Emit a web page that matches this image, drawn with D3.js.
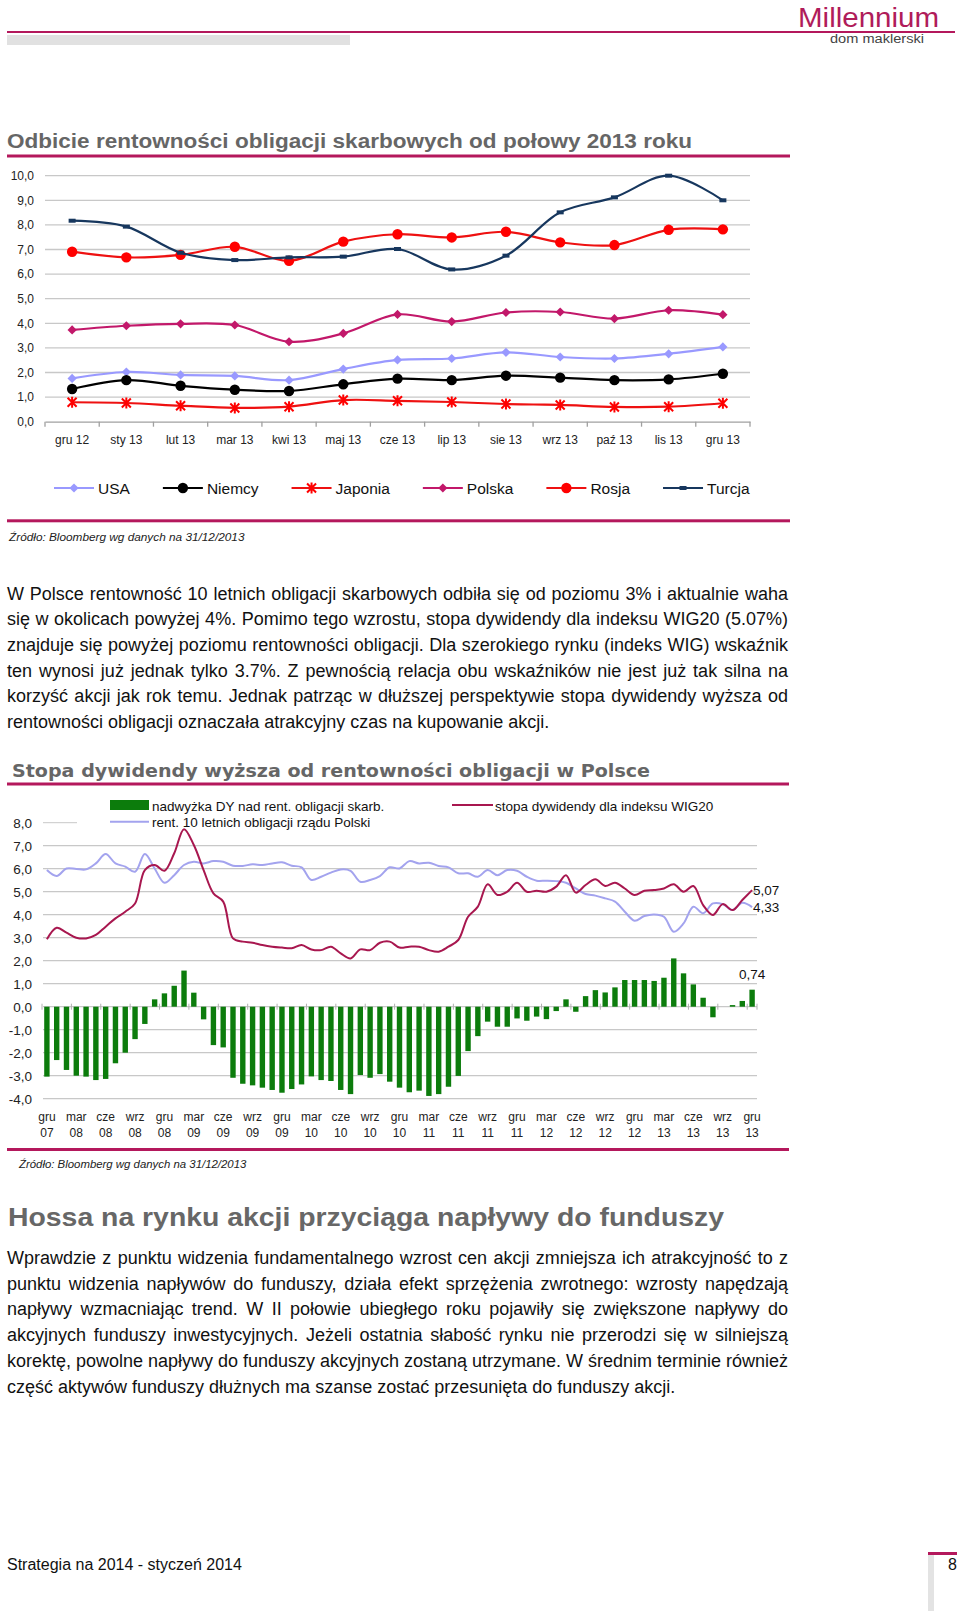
<!DOCTYPE html>
<html><head><meta charset="utf-8">
<script src="https://cdn.jsdelivr.net/npm/d3@7"></script>
<style>
html,body{margin:0;padding:0;background:#fff;}
svg{display:block;font-family:"Liberation Sans",Arial,sans-serif;}
</style></head><body>
<svg id="page" width="960" height="1611"></svg>
<script>
// ---------- DATA: chart 1 (government bond yields) ----------
const months1 = ["gru 12","sty 13","lut 13","mar 13","kwi 13","maj 13","cze 13","lip 13","sie 13","wrz 13","paź 13","lis 13","gru 13"];
const usa     = [1.76,2.02,1.90,1.86,1.69,2.14,2.51,2.57,2.82,2.63,2.57,2.76,3.04];
const niemcy  = [1.33,1.69,1.46,1.30,1.25,1.52,1.75,1.69,1.87,1.79,1.69,1.72,1.95];
const japonia = [0.79,0.76,0.65,0.56,0.61,0.88,0.85,0.80,0.72,0.68,0.60,0.61,0.75];
const polska  = [3.73,3.90,3.98,3.93,3.25,3.59,4.36,4.07,4.44,4.46,4.19,4.53,4.35];
const rosja   = [6.91,6.68,6.78,7.11,6.54,7.32,7.62,7.49,7.72,7.29,7.18,7.80,7.82];
const turcja  = [8.17,7.93,6.87,6.57,6.68,6.71,7.02,6.19,6.75,8.51,9.12,10.0,9.00];
const seriesNames1 = ["USA","Niemcy","Japonia","Polska","Rosja","Turcja"];
const yTicks1 = [0,1,2,3,4,5,6,7,8,9,10];

// ---------- DATA: chart 2 (dividend yield vs bond yield, monthly gru 07 .. gru 13) ----------
const spread = [-3.04,-2.32,-2.75,-3.00,-3.04,-3.19,-3.14,-2.46,-2.00,-1.41,-0.75,0.32,0.58,0.91,1.57,0.61,
 -0.55,-1.67,-1.77,-3.09,-3.35,-3.42,-3.52,-3.62,-3.74,-3.58,-3.38,-3.03,-3.19,-3.23,-3.62,-3.80,-2.97,-3.09,
 -2.93,-3.26,-3.52,-3.72,-3.65,-3.88,-3.80,-3.48,-3.01,-1.93,-1.28,-0.65,-0.87,-0.87,-0.51,-0.61,-0.43,-0.54,
 -0.19,0.32,-0.22,0.46,0.72,0.62,0.84,1.16,1.16,1.16,1.12,1.26,2.10,1.45,0.97,0.39,-0.46,0,0.07,0.25,0.74];
const bond10y = [5.94,5.68,6.01,5.99,5.97,6.23,6.64,6.23,6.09,5.87,6.64,6.01,5.39,5.72,6.16,6.30,6.23,6.33,
 6.30,6.13,6.12,6.19,6.16,6.23,6.28,6.13,6.06,5.51,5.65,5.83,5.97,5.91,5.43,5.51,5.68,6.06,6.01,6.33,6.23,
 6.26,6.12,6.06,5.80,5.80,5.65,5.94,5.72,5.94,5.91,5.65,5.48,5.48,5.46,5.39,5.14,4.90,4.83,4.71,4.57,4.13,
 3.74,3.94,4.01,3.91,3.26,3.62,4.35,4.06,4.49,4.46,4.20,4.52,4.33];
const wig20DY = [2.93,3.43,3.22,3.00,2.97,3.12,3.48,3.84,4.13,4.49,5.94,6.16,5.91,6.67,7.72,7.03,5.94,4.93,
 4.57,2.97,2.83,2.78,2.68,2.61,2.57,2.54,2.68,2.49,2.46,2.61,2.32,2.10,2.49,2.46,2.78,2.83,2.57,2.61,2.61,
 2.46,2.39,2.61,2.90,3.91,4.35,5.32,4.86,5.00,5.39,5.00,5.04,5.00,5.22,5.72,4.96,5.29,5.54,5.25,5.39,5.14,
 4.86,5.04,5.07,5.14,5.32,5.00,5.25,4.42,3.99,4.46,4.20,4.64,5.07];
const monthNames = ["gru","sty","lut","mar","kwi","maj","cze","lip","sie","wrz","paź","lis"];
const xTickLabels2 = ["gru 07","mar 08","cze 08","wrz 08","gru 08","mar 09","cze 09","wrz 09","gru 09","mar 10",
 "cze 10","wrz 10","gru 10","mar 11","cze 11","wrz 11","gru 11","mar 12","cze 12","wrz 12","gru 12","mar 13","cze 13","wrz 13","gru 13"];
const yTicks2 = [-4,-3,-2,-1,0,1,2,3,4,5,6,7,8];
const legend2 = ["nadwyżka DY nad rent. obligacji skarb.","rent. 10 letnich obligacji rządu Polski","stopa dywidendy dla indeksu WIG20"];

// ---------- TEXT ----------
const para1 = [
 "W Polsce rentowność 10 letnich obligacji skarbowych odbiła się od poziomu 3% i aktualnie waha",
 "się w okolicach powyżej 4%. Pomimo tego wzrostu, stopa dywidendy dla indeksu WIG20 (5.07%)",
 "znajduje się powyżej poziomu rentowności obligacji. Dla szerokiego rynku (indeks WIG) wskaźnik",
 "ten wynosi już jednak tylko 3.7%. Z pewnością relacja obu wskaźników nie jest już tak silna na",
 "korzyść akcji jak rok temu. Jednak patrząc w dłuższej perspektywie stopa dywidendy wyższa od",
 "rentowności obligacji oznaczała atrakcyjny czas na kupowanie akcji."];
const para2 = [
 "Wprawdzie z punktu widzenia fundamentalnego wzrost cen akcji zmniejsza ich atrakcyjność to z",
 "punktu widzenia napływów do funduszy, działa efekt sprzężenia zwrotnego: wzrosty napędzają",
 "napływy wzmacniając trend. W II połowie ubiegłego roku pojawiły się zwiększone napływy do",
 "akcyjnych funduszy inwestycyjnych. Jeżeli ostatnia słabość rynku nie przerodzi się w silniejszą",
 "korektę, powolne napływy do funduszy akcyjnych zostaną utrzymane. W średnim terminie również",
 "część aktywów funduszy dłużnych ma szanse zostać przesunięta do funduszy akcji."];

// ---------- STYLE ----------
const ACC = "#b4185c", GRID = "#c8c8c8", TITLE = "#666666", TXT = "#111111";
const colors1 = {USA:"#9999ff",Niemcy:"#000000",Japonia:"#ee1111",Polska:"#c2186a",Rosja:"#ee1111",Turcja:"#17375e"};
const markers1 = {USA:"diamond",Niemcy:"circle",Japonia:"star",Polska:"diamond",Rosja:"circle",Turcja:"square"};
const mcol1 = {USA:"#9999ff",Niemcy:"#000",Japonia:"#ff0000",Polska:"#c2186a",Rosja:"#ff0000",Turcja:"#17375e"};
const data1 = {USA:usa,Niemcy:niemcy,Japonia:japonia,Polska:polska,Rosja:rosja,Turcja:turcja};

const svg = d3.select("#page");

function marker(sel, type, color){
  if(type==="diamond") sel.append("path").attr("d","M0,-4.6L4.6,0L0,4.6L-4.6,0Z").attr("fill",color);
  else if(type==="circle") sel.append("circle").attr("r",5.2).attr("fill",color);
  else if(type==="star") sel.append("path").attr("d","M-4.5,-4.5L4.5,4.5M-4.5,4.5L4.5,-4.5M0,-5.5L0,5.5").attr("stroke",color).attr("stroke-width",2).attr("fill","none");
  else if(type==="square") sel.append("rect").attr("x",-3.5).attr("y",-2).attr("width",7).attr("height",4).attr("fill",color);
}
function textLine(str,x,y,size,opt={}){
  const t = svg.append("text").attr("x",x).attr("y",y).attr("font-size",size).attr("fill",opt.fill||TXT).text(str);
  if(opt.weight) t.attr("font-weight",opt.weight);
  if(opt.style) t.attr("font-style",opt.style);
  if(opt.family) t.style("font-family",opt.family);
  if(opt.anchor) t.attr("text-anchor",opt.anchor);
  if(opt.length) t.attr("textLength",opt.length).attr("lengthAdjust","spacingAndGlyphs");
  return t;
}
function paragraph(lines,x,y0,lh,width,size){
  lines.forEach((s,i)=>{
    const t = textLine(s,x,y0+i*lh,size);
    if(i<lines.length-1){
      const w = t.node().getComputedTextLength();
      const n = (s.match(/ /g)||[]).length;
      if(n>0) t.style("word-spacing",((width-w)/n)+"px");
    }
  });
}

// ---------- HEADER ----------
svg.append("rect").attr("x",7).attr("y",31).attr("width",948).attr("height",2).attr("fill",ACC);
svg.append("rect").attr("x",7).attr("y",35).attr("width",343).attr("height",10).attr("fill","#e1e1e1");
textLine("Millennium",798,27,27,{fill:"#b01c5a",family:"'Liberation Sans Narrow','Liberation Sans',sans-serif",length:141});
textLine("dom maklerski",830,43,12,{fill:"#444",family:"'Liberation Sans Narrow','Liberation Sans',sans-serif",length:94});

// ---------- CHART 1 ----------
textLine("Odbicie rentowności obligacji skarbowych od połowy 2013 roku",7,148,19.5,{fill:TITLE,weight:"bold",length:685});
svg.append("rect").attr("x",7).attr("y",154.5).attr("width",783).attr("height",3).attr("fill",ACC);

const x1 = d3.scaleBand().domain(months1).range([45,750]);
const y1 = d3.scaleLinear().domain([0,10]).range([421.7,175.7]);
const g1 = svg.append("g");
g1.selectAll("line.grid").data(yTicks1.filter(d=>d>0)).join("line")
  .attr("x1",45).attr("x2",750).attr("y1",d=>y1(d)).attr("y2",d=>y1(d))
  .attr("stroke",GRID).attr("stroke-width",1.3);
// y axis labels
const ya1 = g1.append("g").attr("transform","translate(45,0)")
  .call(d3.axisLeft(y1).tickValues(yTicks1).tickSize(0).tickPadding(11).tickFormat(d=>d.toFixed(1).replace(".",",")));
ya1.select(".domain").remove();
ya1.selectAll("text").attr("font-size",12).attr("fill","#222").style("font-family","'Liberation Sans',Arial,sans-serif");
// x axis
const xa1 = g1.append("g").attr("transform",`translate(0,${y1(0)})`)
  .call(d3.axisBottom(x1).tickSize(0).tickPadding(13.3));
xa1.select(".domain").attr("stroke","#a0a0a0").attr("stroke-width",1.3);
xa1.selectAll("text").attr("font-size",12).attr("fill","#222").style("font-family","'Liberation Sans',Arial,sans-serif");
g1.selectAll("line.tk").data(d3.range(months1.length+1)).join("line")
  .attr("x1",i=>45+i*x1.step()).attr("x2",i=>45+i*x1.step())
  .attr("y1",y1(0)).attr("y2",y1(0)+5).attr("stroke","#a0a0a0").attr("stroke-width",1.3);
// lines
const lineGen1 = d3.line().x((d,i)=>x1(months1[i])+x1.bandwidth()/2).y(d=>y1(d)).curve(d3.curveCatmullRom);
seriesNames1.forEach(name=>{
  g1.append("path").datum(data1[name]).attr("d",lineGen1).attr("fill","none")
    .attr("stroke",colors1[name]).attr("stroke-width",2.2);
  data1[name].forEach((v,i)=>{
    const m = g1.append("g").attr("transform",`translate(${x1(months1[i])+x1.bandwidth()/2},${y1(v)})`);
    marker(m,markers1[name],mcol1[name]);
  });
});
// legend 1
let lx = 54;
seriesNames1.forEach(name=>{
  const lg = svg.append("g").attr("transform",`translate(${lx},488)`);
  lg.append("line").attr("x1",0).attr("x2",40).attr("stroke",colors1[name]).attr("stroke-width",2.2);
  marker(lg.append("g").attr("transform","translate(20,0)"),markers1[name],mcol1[name]);
  const t = lg.append("text").attr("x",44).attr("y",5.5).attr("font-size",15.5).attr("fill",TXT).text(name);
  lx += 44 + t.node().getComputedTextLength() + 33;
});
svg.append("rect").attr("x",7).attr("y",519.3).attr("width",783).attr("height",3).attr("fill",ACC);
textLine("Źródło: Bloomberg wg danych na 31/12/2013",9,541,11.8,{style:"italic",fill:"#222"});

// ---------- PARAGRAPH 1 ----------
paragraph(para1,7,599.5,25.7,781,18);

// ---------- CHART 2 ----------
textLine("Stopa dywidendy wyższa od rentowności obligacji w Polsce",12,777,17.5,{fill:TITLE,weight:"bold",family:"'DejaVu Sans',sans-serif",length:638});
svg.append("rect").attr("x",7).attr("y",782.5).attr("width",782).attr("height",3).attr("fill",ACC);

const x2 = d3.scaleBand().domain(d3.range(spread.length)).range([42,757]).paddingInner(0.45).paddingOuter(0.225);
const y2 = d3.scaleLinear().domain([-4,8]).range([1098.7,822.7]);
const cx2 = i => x2(i)+x2.bandwidth()/2;
const g2 = svg.append("g");
g2.selectAll("line.grid").data(yTicks2.filter(d=>d<8)).join("line")
  .attr("x1",43).attr("x2",757).attr("y1",d=>y2(d)).attr("y2",d=>y2(d))
  .attr("stroke",GRID).attr("stroke-width",1.3);
g2.append("line").attr("x1",43).attr("x2",77).attr("y1",y2(8)).attr("y2",y2(8)).attr("stroke","#c8c8c8").attr("stroke-width",1);
const ya2 = g2.append("g").attr("transform","translate(42,0)")
  .call(d3.axisLeft(y2).tickValues(yTicks2).tickSize(0).tickPadding(10).tickFormat(d=>d.toFixed(1).replace(".",",")));
ya2.select(".domain").remove();
ya2.selectAll("text").attr("font-size",13.5).attr("fill","#222").style("font-family","'Liberation Sans',Arial,sans-serif");
// bars
g2.selectAll("rect.bar").data(spread).join("rect")
  .attr("x",(d,i)=>x2(i)).attr("width",x2.bandwidth())
  .attr("y",d=>y2(Math.max(0,d))).attr("height",d=>Math.abs(y2(d)-y2(0)))
  .attr("fill","#0c7c0c");
// zero-axis ticks
const tickIdx = d3.range(0,spread.length,3);
g2.selectAll("line.tk").data(tickIdx.concat([spread.length])).join("line")
  .attr("x1",i=>42+x2.step()*(i+0.225-0.225)).attr("x2",i=>42+x2.step()*i)
  .attr("y1",y2(0)-3).attr("y2",y2(0)+3).attr("stroke","#b0b0b0").attr("stroke-width",1);
// x axis labels (two lines)
const xa2 = g2.append("g").attr("transform",`translate(0,${y2(-4)})`)
  .call(d3.axisBottom(x2).tickValues(tickIdx).tickSize(0).tickFormat((d,k)=>xTickLabels2[k]));
xa2.select(".domain").remove();
xa2.selectAll("text").each(function(d,k){
  const parts = xTickLabels2[k].split(" ");
  const t = d3.select(this).text(null).attr("y",0).attr("dy",null)
    .attr("font-size",12).attr("fill","#222").style("font-family","'Liberation Sans',Arial,sans-serif");
  t.append("tspan").attr("x",0).attr("y",22.3).text(parts[0]);
  t.append("tspan").attr("x",0).attr("y",38.3).text(parts[1]);
});
// lines
const lineGen2 = d3.line().x((d,i)=>cx2(i)).y(d=>y2(d)).curve(d3.curveCatmullRom);
g2.append("path").datum(bond10y).attr("d",lineGen2).attr("fill","none").attr("stroke","#a3a3ee").attr("stroke-width",2);
g2.append("path").datum(wig20DY).attr("d",lineGen2).attr("fill","none").attr("stroke","#a8174f").attr("stroke-width",2);
// end labels
const last = spread.length-1;
const fmt = v => v.toFixed(2).replace(".",",");
textLine(fmt(wig20DY[last]),cx2(last)+1,y2(wig20DY[last])+5,13.5,{fill:"#111"});
textLine(fmt(bond10y[last]),cx2(last)+1,y2(bond10y[last])+5,13.5,{fill:"#111"});
textLine(fmt(spread[last]),cx2(last),y2(spread[last])-10.5,13.5,{fill:"#111",anchor:"middle"});
// legend 2
svg.append("rect").attr("x",110).attr("y",800).attr("width",39).attr("height",10).attr("fill","#0c7c0c");
textLine(legend2[0],152,811,13.5,{fill:"#111"});
svg.append("line").attr("x1",110).attr("x2",149).attr("y1",821.7).attr("y2",821.7).attr("stroke","#a3a3ee").attr("stroke-width",2);
textLine(legend2[1],152,827.3,13.5,{fill:"#111"});
svg.append("line").attr("x1",452).attr("x2",493).attr("y1",805).attr("y2",805).attr("stroke","#a8174f").attr("stroke-width",2);
textLine(legend2[2],495,810.5,13.5,{fill:"#111"});

svg.append("rect").attr("x",7).attr("y",1148).attr("width",782).attr("height",3).attr("fill",ACC);
textLine("Źródło: Bloomberg wg danych na 31/12/2013",19,1168,11.4,{style:"italic",fill:"#222"});

// ---------- SECTION 3 ----------
textLine("Hossa na rynku akcji przyciąga napływy do funduszy",8,1226,26,{fill:"#676767",weight:"bold",length:716});
paragraph(para2,7,1264,25.7,781,18);

// ---------- FOOTER ----------
textLine("Strategia na 2014 - styczeń 2014",7,1569.5,16,{fill:TXT});
svg.append("rect").attr("x",928).attr("y",1552).attr("width",29).attr("height",3).attr("fill",ACC);
svg.append("rect").attr("x",928).attr("y",1555).attr("width",6).attr("height",56).attr("fill","#e3e3e3");
textLine("8",948,1569.5,16,{fill:TXT});
</script>
</body></html>
